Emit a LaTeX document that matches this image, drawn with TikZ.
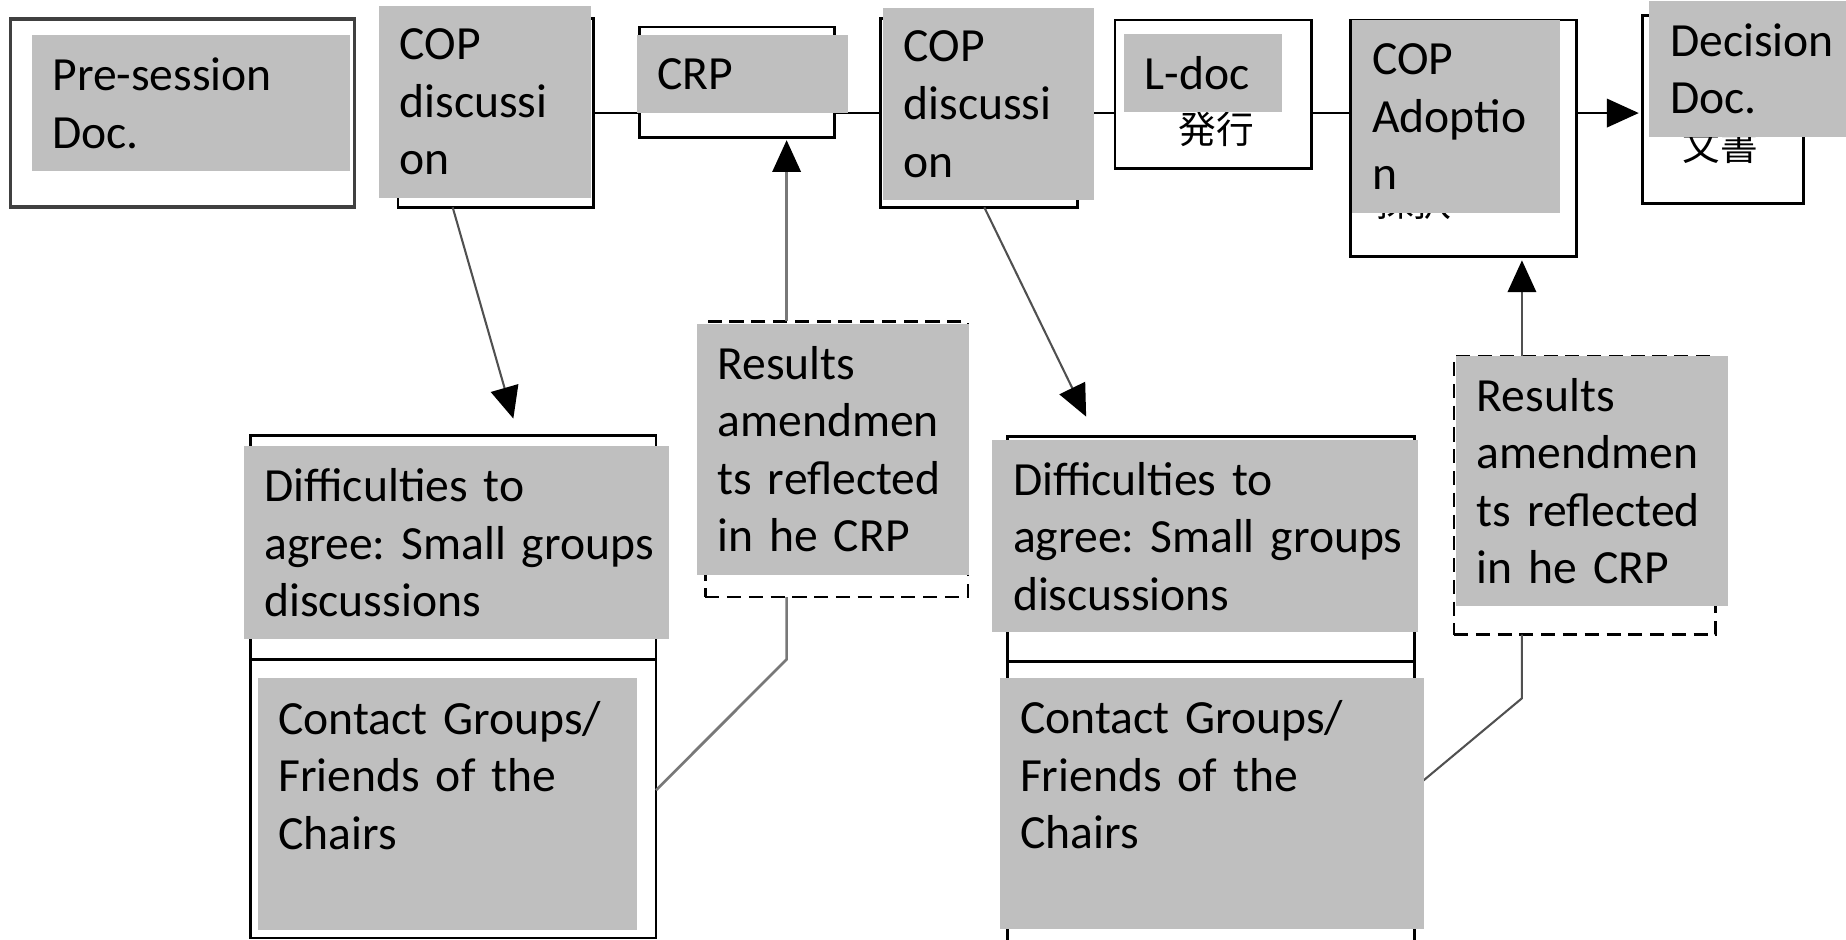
\documentclass[tikz,border=0pt]{standalone}
\usepackage{fontspec}
\setmainfont{Carlito}
\newfontfamily\jpfont{Noto Sans CJK JP}
\usetikzlibrary{calc, arrows.meta}
\hyphenpenalty=10000
\exhyphenpenalty=10000
\frenchspacing

\definecolor{patchgray}{RGB}{191,191,191}
\definecolor{framegray}{RGB}{64,64,64}
\definecolor{wiregray}{RGB}{80,80,80}
\definecolor{feedgray}{RGB}{120,120,120}

\tikzset{
    frame/.style = {draw, line width=0.65pt, inner sep=0pt, outer sep=0pt, anchor=north west},
    dashframe/.style = {frame, dash pattern=on 0.12cm off 0.065cm},
    patch/.style = {fill=patchgray, inner xsep=0.175cm, inner ysep=0pt, outer sep=0pt,
        anchor=north west, align=left, font=\fontsize{11.5pt}{13.9pt}\selectfont},
    hidden/.style = {inner sep=0pt, font=\jpfont\fontsize{9.1pt}{9.1pt}\selectfont},
    link/.style = {line width=0.65pt},
    tip/.style = {-{Triangle[length=0.27cm, width=0.24cm, color=black]}},
    wire/.style = {draw=wiregray, line width=0.5pt},
    feed/.style = {draw=feedgray, line width=0.65pt}
}

\begin{document}
\begin{tikzpicture}[x=0.01cm, y=-0.01cm]
    \useasboundingbox (0,0) rectangle (1568,798);

    % Frames
    \node[frame, draw=framegray, line width=0.9pt, minimum width=2.92cm, minimum height=1.60cm] (pre) at (9,16) {};
    \node[frame, minimum width=1.66cm, minimum height=1.60cm] (cop1) at (338,16) {};
    \node[frame, minimum width=1.66cm, minimum height=0.94cm] (crp) at (543,23) {};
    \node[frame, minimum width=1.67cm, minimum height=1.60cm] (cop2) at (748,16) {};
    \node[frame, minimum width=1.67cm, minimum height=1.26cm] (ldoc) at (947,17) {};
    \node[frame, minimum width=1.92cm, minimum height=2.01cm] (adopt) at (1147,17) {};
    \node[frame, minimum width=1.37cm, minimum height=1.60cm] (dec) at (1395,13) {};
    \node[frame, minimum width=3.44cm, minimum height=1.90cm] (diff1) at (213,370) {};
    \node[frame, minimum width=3.44cm, minimum height=2.365cm] (cont1) at (213,560) {};
    \node[dashframe, minimum width=2.23cm, minimum height=2.34cm] (res1) at (599,273) {};
    \node[frame, minimum width=3.45cm, minimum height=1.91cm] (diff2) at (856,371) {};
    \node[frame, minimum width=3.45cm, minimum height=2.41cm] (cont2) at (856,562) {};
    \node[dashframe, minimum width=2.22cm, minimum height=2.36cm] (res2) at (1235,303) {};

    % Links
    \draw[link] (cop1.east) -- (cop1.east -| crp.west);
    \draw[link] (cop1.east -| crp.east) -- (cop2.west);
    \draw[link] (cop2.east) -- (cop2.east -| ldoc.west);
    \draw[link] (cop2.east -| ldoc.east) -- (cop2.east -| adopt.west);
    \draw[link, tip, shorten >=0.03cm] (cop2.east -| adopt.east) -- (cop2.east -| dec.west);

    \draw[wire, tip, shorten >=0.15cm] ($(cop1.south west)!0.28!(cop1.south east)$)
        -- ($(diff1.north west)!0.66!(diff1.north east)$);
    \draw[wire, tip, shorten >=0.19cm] ($(cop2.south west)!0.527!(cop2.south east)$)
        -- ($(diff2.north west)!0.217!(diff2.north east)$);

    \coordinate (res1Top) at ($(res1.north west)!0.31!(res1.north east)$);
    \coordinate (res1Bot) at ($(res1.south west)!0.31!(res1.south east)$);
    \coordinate (res2Top) at ($(res2.north west)!0.26!(res2.north east)$);
    \coordinate (res2Bot) at ($(res2.south west)!0.26!(res2.south east)$);

    \draw[feed, tip, shorten >=0.02cm] (res1Top) -- (res1Top |- crp.south);
    \draw[wire, line width=0.65pt, tip, shorten >=0.03cm] (res2Top) -- (res2Top |- adopt.south);
    \draw[feed] (res1Bot) -- (res1Bot |- diff1.south)
        -- ($(cont1.north east)!0.47!(cont1.south east)$);
    \draw[wire] (res2Bot) -- ++(0,54)
        -- ($(cont2.north east)!0.446!(cont2.south east)$);

    % Covered texts
    \node[hidden] (ldocJp) at (1033,110) {発行};
    \node[hidden] (adoptJp) at (1201,172) {採択};
    \node[hidden] (decJp) at (1461,124) {文書};

    % Labels
    \node[patch, text width=2.35cm, minimum height=1.15cm] (preText) at (27,30) {Pre-session\\Doc.};
    \node[patch, text width=1.45cm, minimum height=1.63cm] (cop1Text) at (322,5) {COP\\discussi\\on};
    \node[patch, text width=1.44cm, minimum height=0.66cm] (crpText) at (541,30) {CRP};
    \node[patch, text width=1.44cm, minimum height=1.63cm] (cop2Text) at (750,7) {COP\\discussi\\on};
    \node[patch, text width=0.99cm, minimum height=0.66cm] (ldocText) at (955,29) {L-doc};
    \node[patch, text width=1.42cm, minimum height=1.64cm] (adoptText) at (1148,17) {COP\\Adoptio\\n};
    \node[patch, text width=1.35cm, minimum height=1.15cm] (decText) at (1401,1) {Decision\\Doc.};
    \node[patch, text width=3.26cm, minimum height=1.64cm] (diff1Text) at (207,379) {\mbox{Difficulties to}\\\mbox{agree: Small groups}\\discussions};
    \node[patch, text width=2.87cm, minimum height=2.14cm] (cont1Text) at (219,576) {\mbox{Contact Groups/}\\\mbox{Friends of the}\\Chairs\\\mbox{}};
    \node[patch, text width=1.96cm, minimum height=2.13cm] (res1Text) at (592,275) {Results\\amendmen\\\mbox{ts reflected}\\\mbox{in he CRP}};
    \node[patch, text width=3.26cm, minimum height=1.63cm] (diff2Text) at (843,374) {\mbox{Difficulties to}\\\mbox{agree: Small groups}\\discussions};
    \node[patch, text width=3.25cm, minimum height=2.13cm] (cont2Text) at (849,576) {\mbox{Contact Groups/}\\\mbox{Friends of the}\\Chairs\\\mbox{}};
    \node[patch, text width=1.96cm, minimum height=2.13cm] (res2Text) at (1237,302) {Results\\amendmen\\\mbox{ts reflected}\\\mbox{in he CRP}};
\end{tikzpicture}
\end{document}
